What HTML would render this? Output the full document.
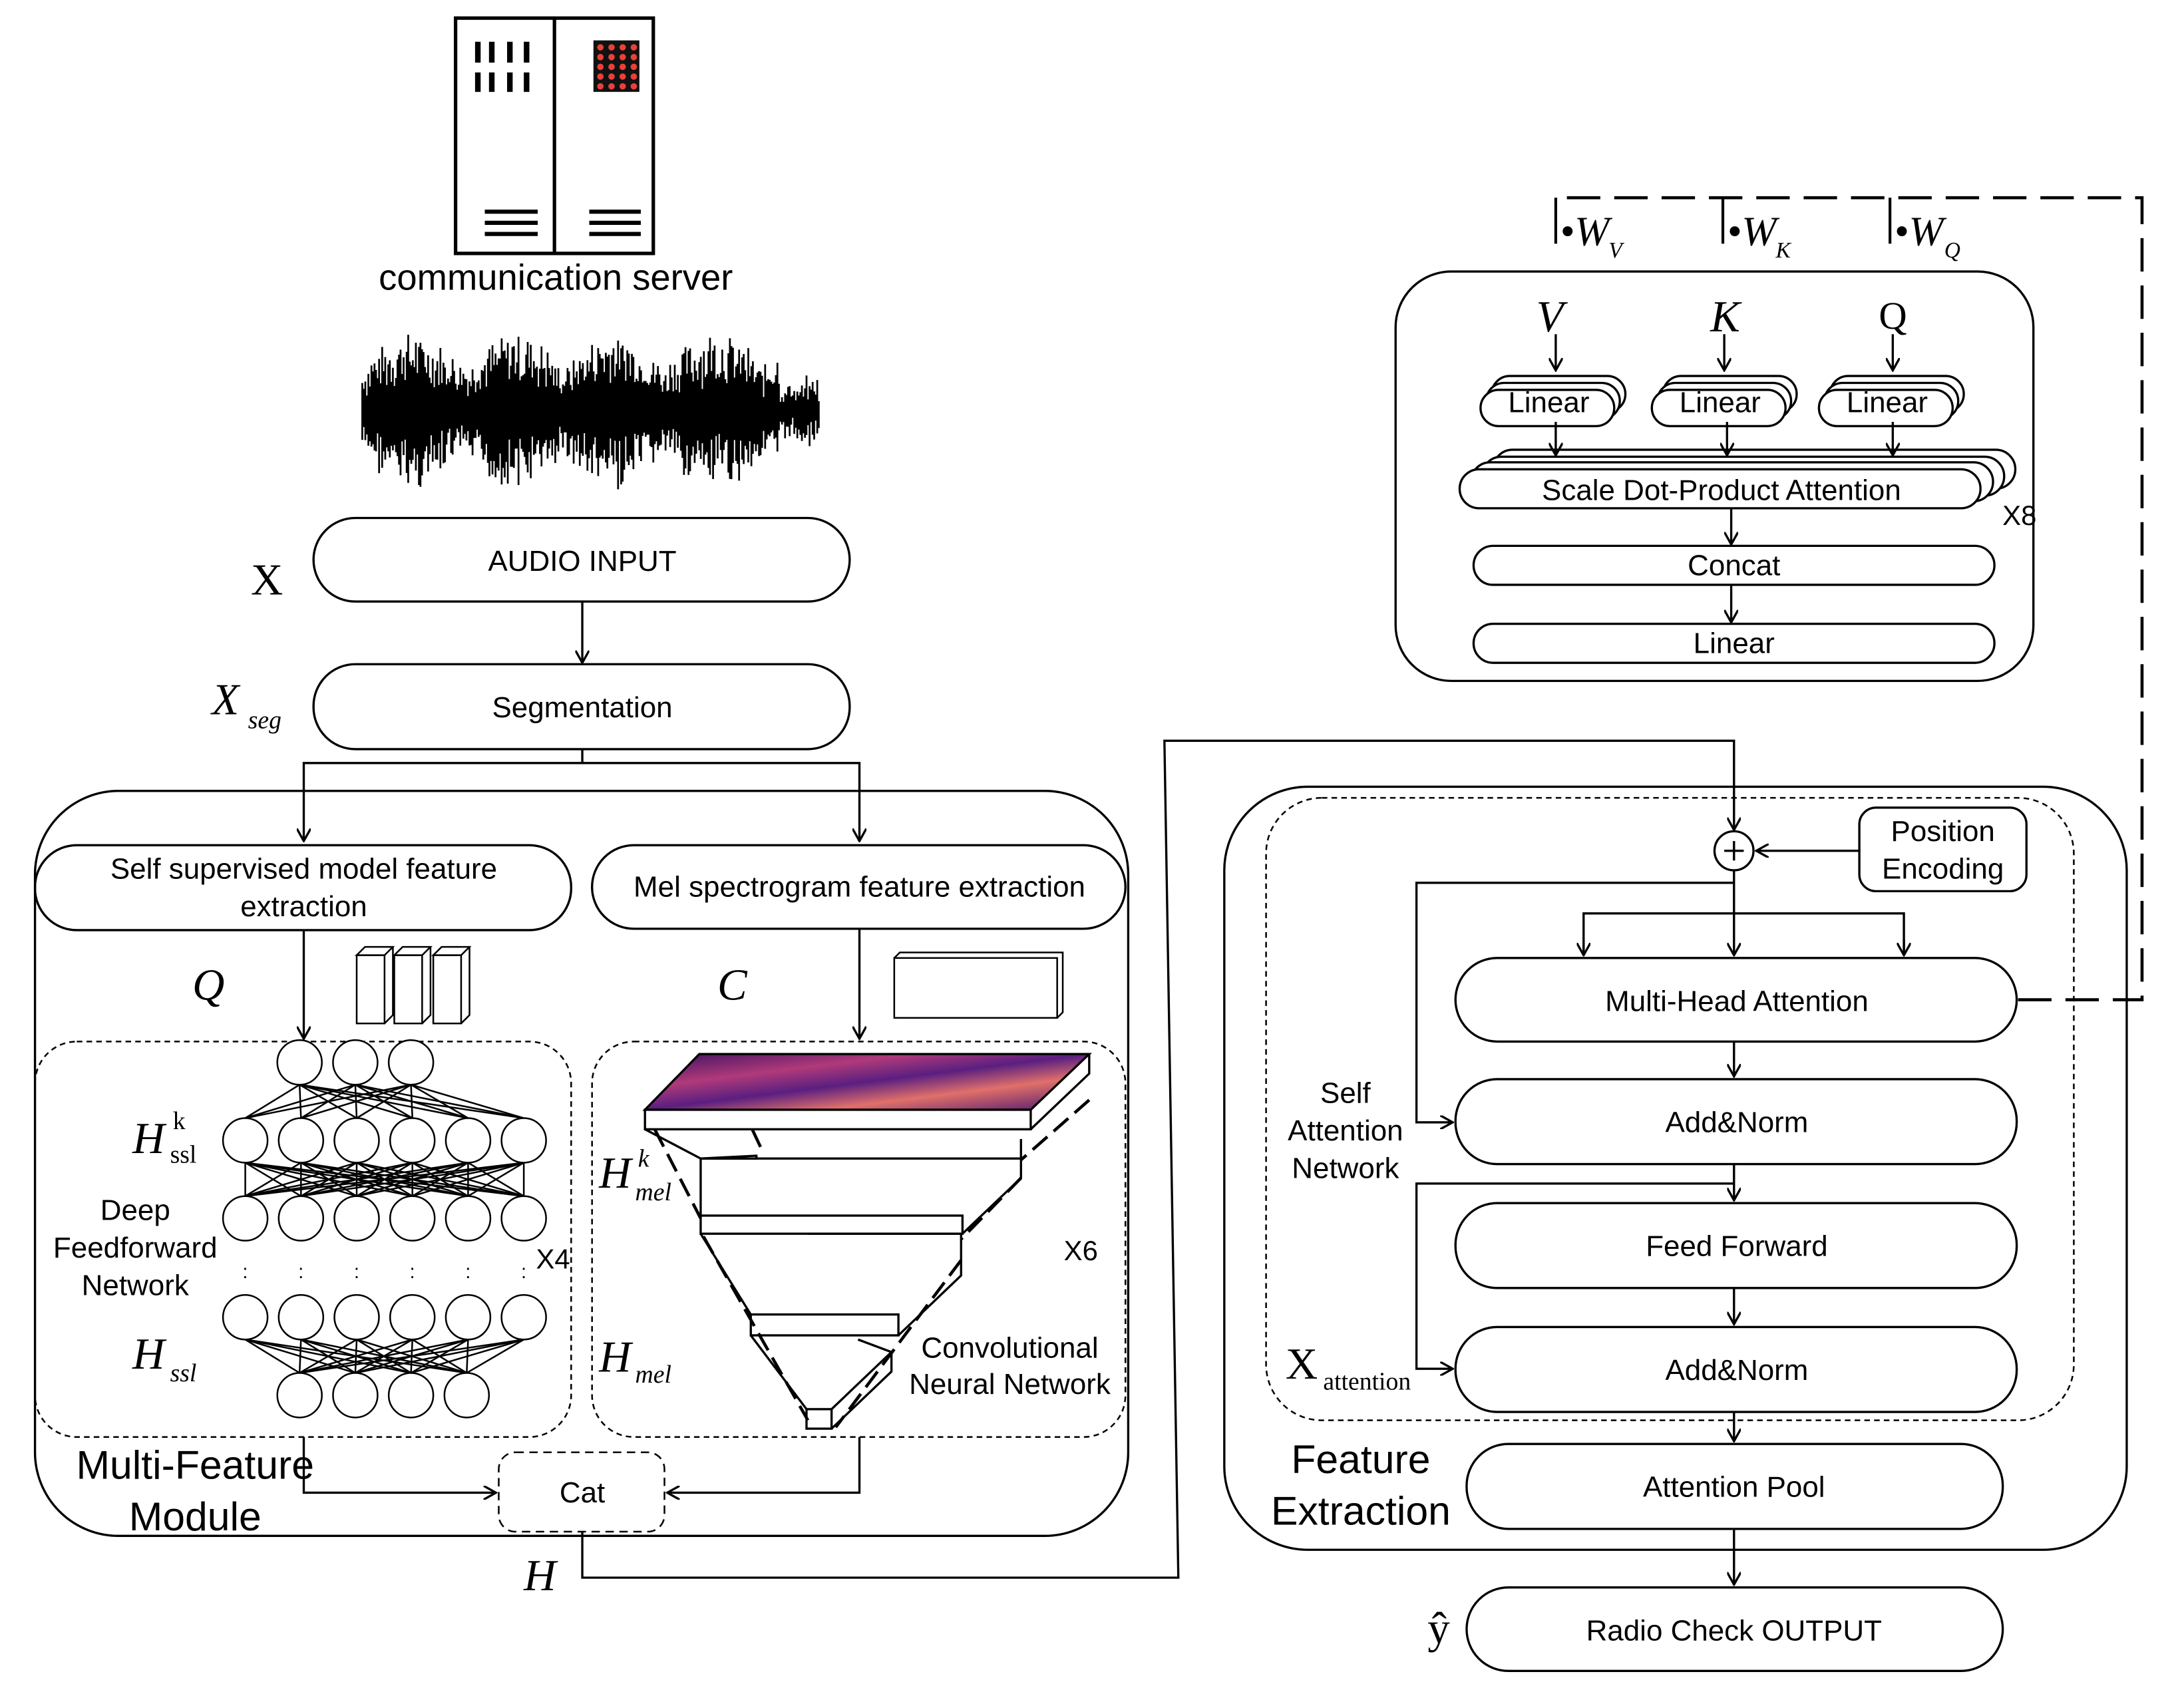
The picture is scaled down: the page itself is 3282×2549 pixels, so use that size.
<!DOCTYPE html>
<html><head><meta charset="utf-8"><style>
html,body{margin:0;padding:0;background:#fff}
svg{display:block}
text{font-family:"Liberation Sans",sans-serif;fill:#000}
.s{font-family:"Liberation Serif",serif;font-style:italic}
.r{font-family:"Liberation Serif",serif}
</style></head><body>
<svg id="sv" width="3282" height="2549" viewBox="0 0 1568 1218" xmlns="http://www.w3.org/2000/svg">
<defs>
<marker id="a" markerWidth="10" markerHeight="10" refX="9" refY="5" orient="auto" markerUnits="userSpaceOnUse"><path d="M0,0 L9,5 L0,10" fill="none" stroke="#000" stroke-width="1.6"/></marker>
<linearGradient id="sp" x1="0" x2="1" y1="0" y2="1"><stop offset="0" stop-color="#3a1060"/><stop offset="0.3" stop-color="#b03a7a"/><stop offset="0.5" stop-color="#5a1f80"/><stop offset="0.7" stop-color="#e0706a"/><stop offset="1" stop-color="#4a1570"/></linearGradient>
</defs>
<g fill="none" stroke="#000" stroke-width="1.6">
<!-- server -->
<rect x="327" y="13" width="142" height="169" stroke-width="2.5"/>
<line x1="398" y1="13" x2="398" y2="182" stroke-width="2.5"/>
<g stroke-width="4"><line x1="343" y1="30" x2="343" y2="45"/><line x1="353" y1="30" x2="353" y2="45"/><line x1="366" y1="30" x2="366" y2="45"/><line x1="378" y1="30" x2="378" y2="45"/>
<line x1="343" y1="52" x2="343" y2="66"/><line x1="353" y1="52" x2="353" y2="66"/><line x1="366" y1="52" x2="366" y2="66"/><line x1="378" y1="52" x2="378" y2="66"/>
<line x1="348" y1="152" x2="386" y2="152" stroke-width="3"/><line x1="348" y1="160" x2="386" y2="160" stroke-width="3"/><line x1="348" y1="168" x2="386" y2="168" stroke-width="3"/>
<line x1="423" y1="152" x2="460" y2="152" stroke-width="3"/><line x1="423" y1="160" x2="460" y2="160" stroke-width="3"/><line x1="423" y1="168" x2="460" y2="168" stroke-width="3"/></g>
<rect x="426" y="29" width="33" height="37" fill="#111" stroke="none"/>
<g id="dots"></g>
<g id="wave" stroke-width="1.3"></g>
<!-- top flow -->
<rect x="225" y="372" width="385" height="60" rx="30"/>
<line x1="418" y1="432" x2="418" y2="476" marker-end="url(#a)"/>
<rect x="225" y="477" width="385" height="61" rx="30"/>
<polyline points="418,538 418,548 218,548 218,604" marker-end="url(#a)"/>
<polyline points="418,548 617,548 617,604" marker-end="url(#a)"/>
<rect x="25" y="568" width="785" height="535" rx="60"/>
<rect x="25" y="607" width="385" height="61" rx="30"/>
<rect x="425" y="607" width="383" height="60" rx="30"/>
<line x1="218" y1="668" x2="218" y2="746" marker-end="url(#a)"/>
<line x1="617" y1="667" x2="617" y2="746" marker-end="url(#a)"/>
<!-- cubes -->
<g stroke-width="1.2"><rect x="256" y="686" width="20" height="49"/><polygon points="256,686 262,680 282,680 276,686"/><polyline points="276,735 282,729 282,680"/>
<rect x="283" y="686" width="20" height="49"/><polygon points="283,686 289,680 309,680 303,686"/><polyline points="303,735 309,729 309,680"/>
<rect x="311" y="686" width="20" height="49"/><polygon points="311,686 317,680 337,680 331,686"/><polyline points="331,735 337,729 337,680"/>
<rect x="642" y="688" width="117" height="43"/><polyline points="642,688 646,684 763,684 763,727 759,731"/></g>
<rect x="25" y="748" width="385" height="284" rx="30" stroke-dasharray="4,3" stroke-width="1.2"/>
<rect x="425" y="748" width="383" height="284" rx="30" stroke-dasharray="4,3" stroke-width="1.2"/>
<g id="nn" stroke-width="1.2"></g>
<!-- CNN -->
<polygon points="463,797 502,757 782,757 740,797" fill="url(#sp)" stroke="#000"/>
<rect x="463" y="797" width="277" height="14" fill="#fff"/>
<polyline points="740,811 782,771 782,757"/>
<polyline points="463,811 503,832 733,832 733,818"/>
<polygon points="503,832 543,832 543,830" />
<rect x="503" y="873" width="188" height="13" fill="#fff"/>
<line x1="503" y1="832" x2="503" y2="873"/>
<polyline points="691,886 733,846 733,832"/>
<line x1="543" y1="830" x2="543" y2="832"/>
<rect x="539" y="944" width="106" height="15" fill="#fff"/>
<polyline points="503,886 539,944"/>
<polyline points="580,886 690,886"/>
<polyline points="645,959 690,916 690,886"/>
<rect x="579" y="1012" width="18" height="14" fill="#fff"/>
<polyline points="597,1026 640,985 640,971 597,1012"/>
<polyline points="539,959 579,1012"/>
<line x1="616" y1="962" x2="640" y2="971"/>
<line x1="540" y1="811" x2="548" y2="828" stroke-dasharray="14,6" stroke-width="2.2"/>
<line x1="782" y1="790" x2="733" y2="833" stroke-dasharray="14,6" stroke-width="2.2"/>
<line x1="470" y1="811" x2="503" y2="875" stroke-dasharray="14,6" stroke-width="2.2"/>
<line x1="733" y1="846" x2="690" y2="890" stroke-dasharray="14,6" stroke-width="2.2"/>
<line x1="505" y1="888" x2="580" y2="1020" stroke-dasharray="14,6" stroke-width="2.2"/>
<line x1="690" y1="905" x2="600" y2="1025" stroke-dasharray="14,6" stroke-width="2.2"/>
<!-- Cat -->
<rect x="358" y="1043" width="119" height="57" rx="12" stroke-dasharray="6,4" stroke-width="1.2"/>
<polyline points="218,1032 218,1072 356,1072" marker-end="url(#a)"/>
<polyline points="617,1032 617,1072 479,1072" marker-end="url(#a)"/>
<polyline points="418,1100 418,1133 846,1133 836,532 1245,532 1245,596" marker-end="url(#a)"/>
<!-- right module -->
<rect x="879" y="565" width="648" height="548" rx="60"/>
<rect x="909" y="573" width="580" height="447" rx="40" stroke-dasharray="4,3" stroke-width="1.2"/>
<rect x="1335" y="580" width="120" height="60" rx="12"/>
<line x1="1335" y1="611" x2="1261" y2="611" marker-end="url(#a)"/>
<circle cx="1245" cy="611" r="14"/>
<line x1="1238" y1="611" x2="1252" y2="611"/><line x1="1245" y1="604" x2="1245" y2="618"/>
<line x1="1245" y1="625" x2="1245" y2="686" marker-end="url(#a)"/>
<polyline points="1137,686 1137,656 1367,656 1367,686"/>
<line x1="1137" y1="675" x2="1137" y2="686" marker-end="url(#a)"/>
<line x1="1367" y1="675" x2="1367" y2="686" marker-end="url(#a)"/>
<polyline points="1245,634 1017,634 1017,806 1043,806" marker-end="url(#a)"/>
<rect x="1045" y="688" width="403" height="60" rx="30"/>
<line x1="1245" y1="748" x2="1245" y2="773" marker-end="url(#a)"/>
<rect x="1045" y="775" width="403" height="61" rx="30"/>
<line x1="1245" y1="836" x2="1245" y2="862" marker-end="url(#a)"/>
<polyline points="1245,850 1017,850 1017,983 1043,983" marker-end="url(#a)"/>
<rect x="1045" y="864" width="403" height="61" rx="30"/>
<line x1="1245" y1="925" x2="1245" y2="951" marker-end="url(#a)"/>
<rect x="1045" y="953" width="403" height="61" rx="30"/>
<line x1="1245" y1="1014" x2="1245" y2="1035" marker-end="url(#a)"/>
<rect x="1053" y="1037" width="385" height="61" rx="30"/>
<line x1="1245" y1="1098" x2="1245" y2="1138" marker-end="url(#a)"/>
<rect x="1053" y="1140" width="385" height="60" rx="30"/>
<!-- dashed feedback -->
<polyline points="1449,718 1538,718 1538,142 1117,142" stroke-dasharray="24,10" stroke-width="2.2"/>
<line x1="1117" y1="142" x2="1117" y2="175" stroke-width="2"/>
<line x1="1237" y1="142" x2="1237" y2="175" stroke-width="2"/>
<line x1="1357" y1="142" x2="1357" y2="175" stroke-width="2"/>
<!-- top attention -->
<rect x="1002" y="195" width="458" height="294" rx="40"/>
<line x1="1117" y1="240" x2="1117" y2="266" marker-end="url(#a)"/>
<line x1="1238" y1="240" x2="1238" y2="266" marker-end="url(#a)"/>
<line x1="1359" y1="240" x2="1359" y2="266" marker-end="url(#a)"/>
<g id="lin"></g>
<rect x="1072" y="323" width="375" height="28" rx="14" fill="#fff"/>
<rect x="1064" y="328" width="375" height="28" rx="14" fill="#fff"/>
<rect x="1056" y="332" width="375" height="28" rx="14" fill="#fff"/>
<rect x="1048" y="337" width="374" height="28" rx="14" fill="#fff"/>
<line x1="1117" y1="303" x2="1117" y2="327" marker-end="url(#a)"/>
<line x1="1240" y1="303" x2="1240" y2="327" marker-end="url(#a)"/>
<line x1="1359" y1="303" x2="1359" y2="327" marker-end="url(#a)"/>
<line x1="1243" y1="365" x2="1243" y2="391" marker-end="url(#a)"/>
<rect x="1058" y="392" width="374" height="28" rx="14"/>
<line x1="1243" y1="420" x2="1243" y2="447" marker-end="url(#a)"/>
<rect x="1058" y="448" width="374" height="28" rx="14"/>
</g>
<!-- text -->
<g font-size="21" text-anchor="middle">
<text x="399" y="208" font-size="26">communication server</text>
<text x="418" y="410">AUDIO INPUT</text>
<text x="418" y="515">Segmentation</text>
<text x="218" y="631">Self supervised model feature</text>
<text x="218" y="658">extraction</text>
<text x="617" y="644">Mel spectrogram feature extraction</text>
<text x="97" y="876">Deep</text><text x="97" y="903">Feedforward</text><text x="97" y="930">Network</text>
<text x="397" y="911" font-size="20">X4</text>
<text x="776" y="905" font-size="20">X6</text>
<text x="725" y="975">Convolutional</text><text x="725" y="1001">Neural Network</text>
<text x="418" y="1079">Cat</text>
<text x="140" y="1062" font-size="29">Multi-Feature</text>
<text x="140" y="1099" font-size="29">Module</text>
<text x="1395" y="604">Position</text><text x="1395" y="631">Encoding</text>
<text x="1247" y="726">Multi-Head Attention</text>
<text x="1247" y="813">Add&amp;Norm</text>
<text x="1247" y="902">Feed Forward</text>
<text x="1247" y="991">Add&amp;Norm</text>
<text x="1245" y="1075">Attention Pool</text>
<text x="1245" y="1178">Radio Check OUTPUT</text>
<text x="966" y="792">Self</text><text x="966" y="819">Attention</text><text x="966" y="846">Network</text>
<text x="977" y="1058" font-size="29">Feature</text><text x="977" y="1095" font-size="29">Extraction</text>
<text x="1236" y="359">Scale Dot-Product Attention</text>
<text x="1245" y="413">Concat</text>
<text x="1245" y="469">Linear</text>
<text x="1450" y="377" font-size="20">X8</text>
</g>
<g font-size="32">
<text class="r" x="180" y="427">X</text>
<text class="s" x="152" y="513">X</text><text class="s" x="178" y="523" font-size="18">seg</text>
<text class="s" x="138" y="718">Q</text>
<text class="s" x="515" y="718">C</text>
<text class="s" x="95" y="828">H</text><text class="r" x="124" y="811" font-size="18">k</text><text class="r" x="122" y="835" font-size="18">ssl</text>
<text class="s" x="95" y="983">H</text><text class="s" x="122" y="992" font-size="18">ssl</text>
<text class="s" x="430" y="853">H</text><text class="s" x="458" y="838" font-size="18">k</text><text class="s" x="456" y="862" font-size="18">mel</text>
<text class="s" x="430" y="985">H</text><text class="s" x="456" y="993" font-size="18">mel</text>
<text class="s" x="376" y="1142">H</text>
<text class="r" x="923" y="990">X</text><text class="r" x="950" y="998" font-size="18">attention</text>
<text class="r" x="1025" y="1180">ŷ</text>
<text class="s" x="1103" y="238">V</text>
<text class="s" x="1228" y="238">K</text>
<text class="r" x="1349" y="236" font-size="28">Q</text>
<text class="s" x="1120" y="176" font-size="30">•W</text><text class="s" x="1155" y="185" font-size="16">V</text>
<text class="s" x="1240" y="176" font-size="30">•W</text><text class="s" x="1275" y="185" font-size="16">K</text>
<text class="s" x="1360" y="176" font-size="30">•W</text><text class="s" x="1396" y="185" font-size="16">Q</text>
</g>
<script>
var NS="http://www.w3.org/2000/svg";
function el(p,t,a){var e=document.createElementNS(NS,t);for(var k in a)e.setAttribute(k,a[k]);p.appendChild(e);return e;}
var d=document.getElementById("dots");
for(var i=0;i<4;i++)for(var j=0;j<5;j++)el(d,"circle",{cx:431+i*8,cy:34+j*7,r:2.3,fill:"#e8413a",stroke:"none"});
var w=document.getElementById("wave"),s=7;
function rnd(){s=(s*9301+49297)%233280;return s/233280;}
for(var x=260;x<588;x+=1.1){var env=0.55+0.45*Math.abs(Math.sin((x-260)/23));if(x>560)env*=0.4;var h=(20+35*rnd())*env;var c=295+(rnd()-0.5)*8;el(w,"line",{x1:x,y1:c-h,x2:x,y2:c+h});}
var nn=document.getElementById("nn");
var r1=[[215,763],[255,763],[295,763]],X6=[176,216,256,296,336,376];
var r2=X6.map(function(x){return[x,819]}),r3=X6.map(function(x){return[x,875]}),r4=X6.map(function(x){return[x,946]}),r5=[215,255,295,335].map(function(x){return[x,1002]});
function conn(A,B){A.forEach(function(a){B.forEach(function(b){el(nn,"line",{x1:a[0],y1:a[1]+16,x2:b[0],y2:b[1]-16});});});}
conn(r1,r2);conn(r2,r3);conn(r4,r5);
[r1,r2,r3,r4,r5].forEach(function(R){R.forEach(function(p){el(nn,"circle",{cx:p[0],cy:p[1],r:16,fill:"#fff"});});});
X6.forEach(function(x){el(nn,"text",{x:x-2,y:918,"font-size":"14",stroke:"none"}).textContent=":";});
var L=document.getElementById("lin");
[1112,1235,1355].forEach(function(cx){for(var k=2;k>=0;k--){el(L,"rect",{x:cx-49+k*4,y:275-k*5+5,width:96,height:26,rx:13,fill:"#fff"});}
var t=el(L,"text",{x:cx,y:296,"font-size":"21","text-anchor":"middle",stroke:"none",fill:"#000"});t.textContent="Linear";});
</script>
</svg>
</body></html>
